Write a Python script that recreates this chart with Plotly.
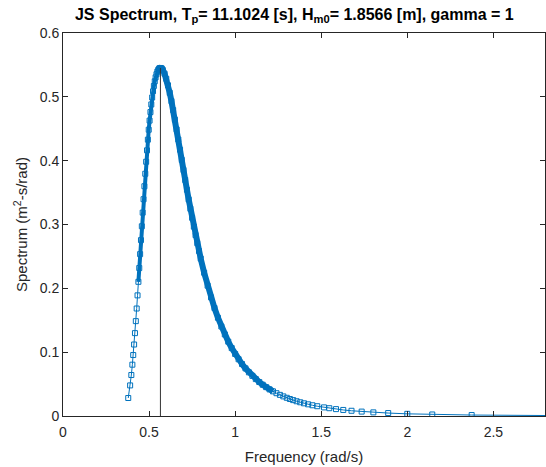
import plotly.graph_objects as go

# Frequency (rad/s) and spectral density (m^2-s/rad)
freq = [0.379, 0.390, 0.397, 0.403, 0.408, 0.413, 0.418, 0.423, 0.428, 0.433,
        0.438, 0.443, 0.448, 0.453, 0.458, 0.463, 0.468, 0.473, 0.478, 0.483,
        0.488, 0.493, 0.498, 0.503, 0.508, 0.513, 0.518, 0.523, 0.528, 0.533,
        0.538, 0.543, 0.548, 0.553, 0.558, 0.563, 0.566, 0.570, 0.575, 0.580,
        0.590, 0.600, 0.610, 0.620, 0.630, 0.640, 0.650, 0.660, 0.670, 0.680,
        0.690, 0.700, 0.710, 0.720, 0.730, 0.740, 0.750, 0.760, 0.770, 0.780,
        0.790, 0.800, 0.820, 0.840, 0.860, 0.880, 0.900, 0.920, 0.940, 0.960,
        0.980, 1.000, 1.020, 1.040, 1.060, 1.080, 1.100, 1.120, 1.140, 1.160,
        1.180, 1.200, 1.220, 1.240, 1.260, 1.280, 1.300, 1.318, 1.337, 1.357,
        1.378, 1.400, 1.424, 1.449, 1.477, 1.516, 1.547, 1.586, 1.628, 1.676,
        1.735, 1.803, 1.889, 2.000, 2.145, 2.374, 2.950]
spec = [0.0282, 0.0479, 0.0642, 0.0804, 0.0955, 0.1120, 0.1298, 0.1486, 0.1684, 0.1890,
        0.2102, 0.2318, 0.2536, 0.2755, 0.2972, 0.3186, 0.3396, 0.3599, 0.3795, 0.3983,
        0.4162, 0.4329, 0.4485, 0.4628, 0.4761, 0.4881, 0.4990, 0.5086, 0.5170, 0.5243,
        0.5305, 0.5354, 0.5394, 0.5422, 0.5441, 0.5451, 0.5452, 0.5450, 0.5439, 0.5420,
        0.5363, 0.5282, 0.5181, 0.5063, 0.4933, 0.4792, 0.4643, 0.4489, 0.4331, 0.4172,
        0.4012, 0.3854, 0.3697, 0.3544, 0.3393, 0.3247, 0.3105, 0.2967, 0.2834, 0.2707,
        0.2584, 0.2466, 0.2244, 0.2042, 0.1858, 0.1691, 0.1539, 0.1402, 0.1278, 0.1165,
        0.1064, 0.0972, 0.0889, 0.0814, 0.0746, 0.0684, 0.0629, 0.0578, 0.0532, 0.0490,
        0.0452, 0.0417, 0.0386, 0.0357, 0.0331, 0.0307, 0.0285, 0.0266, 0.0249, 0.0231,
        0.0215, 0.0199, 0.0183, 0.0168, 0.0153, 0.0135, 0.0122, 0.0108, 0.0095, 0.0082,
        0.0069, 0.0057, 0.0046, 0.0034, 0.0024, 0.0015, 0.0005]

peak_freq = 0.566
peak_spec = 0.5452

x_ticks = [0, 0.5, 1, 1.5, 2, 2.5]
y_ticks = [0, 0.1, 0.2, 0.3, 0.4, 0.5, 0.6]

BLUE = "#0072BD"
AX = "#262626"
FONT = "Liberation Sans, Arial, Helvetica, sans-serif"


def segment(lo, hi):
    pts = [(f, s) for f, s in zip(freq, spec) if lo <= f <= hi]
    return [p[0] for p in pts], [p[1] for p in pts]


# dense parts of the curve where markers overlap into a solid band
left_x, left_y = segment(0.438, 0.570)
right_x, right_y = segment(0.548, 1.22)

fig = go.Figure()
fig.add_trace(go.Scatter(x=left_x, y=left_y, mode="lines",
                         line=dict(color=BLUE, width=4), hoverinfo="skip",
                         showlegend=False))
fig.add_trace(go.Scatter(x=right_x, y=right_y, mode="lines",
                         line=dict(color=BLUE, width=6), hoverinfo="skip",
                         showlegend=False))
fig.add_trace(go.Scatter(x=freq, y=spec, mode="lines+markers",
                         line=dict(color=BLUE, width=1),
                         marker=dict(symbol="square-open", size=5, color=BLUE,
                                     line=dict(width=1, color=BLUE)),
                         showlegend=False))
fig.add_trace(go.Scatter(x=[peak_freq, peak_freq], y=[0, peak_spec], mode="lines",
                         line=dict(color="#333333", width=1), showlegend=False))

fig.update_layout(
    width=546, height=467,
    margin=dict(l=63, r=1, t=33, b=51),
    paper_bgcolor="white", plot_bgcolor="white",
    font=dict(family=FONT, size=13, color=AX),
    title=dict(text="JS Spectrum, T<sub>p</sub>= 11.1024 [s], H<sub>m0</sub>= 1.8566 [m], gamma = 1",
               font=dict(family=FONT, size=16, color="black", weight="bold"),
               x=0.48, xanchor="center", xref="paper", y=0.97, yanchor="middle"),
)
fig.update_xaxes(range=[0, 2.8], tickvals=x_ticks, ticks="inside", ticklen=5,
                 tickcolor=AX, showline=True, linecolor=AX, linewidth=1,
                 mirror="ticks", showgrid=False, zeroline=False, automargin=False,
                 tickfont=dict(size=14, color=AX), ticklabelstandoff=3,
                 title=dict(text="Frequency (rad/s)", font=dict(size=15, color=AX),
                            standoff=12))
fig.update_yaxes(range=[0, 0.6], tickvals=y_ticks, ticks="inside", ticklen=5,
                 tickcolor=AX, showline=True, linecolor=AX, linewidth=1,
                 mirror="ticks", showgrid=False, zeroline=False, automargin=False,
                 tickfont=dict(size=14, color=AX),
                 title=dict(text="Spectrum (m<sup>2</sup>-s/rad)",
                            font=dict(size=15, color=AX), standoff=8))

fig.write_html("out.html", config={"displayModeBar": False},
               post_script="document.body.style.margin='0';document.body.style.overflow='hidden';")
